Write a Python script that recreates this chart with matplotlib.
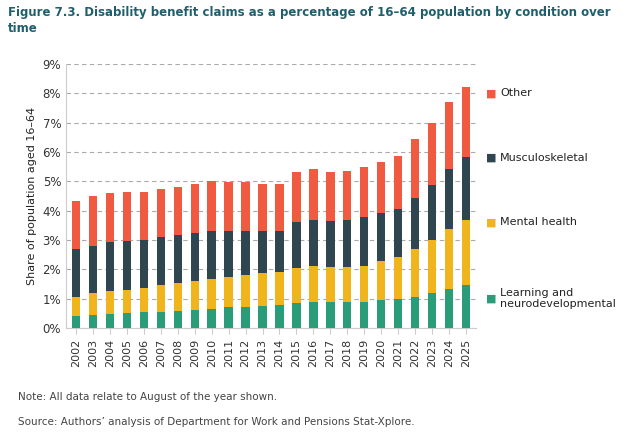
import matplotlib
matplotlib.use("Agg")
import matplotlib.pyplot as plt
import numpy as np

years = [str(y) for y in range(2002, 2026)]
cum_learning = [0.4,0.44,0.47,0.5,0.53,0.55,0.58,0.62,0.65,0.7,0.73,0.75,0.79,0.85,0.87,0.87,0.87,0.9,0.94,1.0,1.07,1.19,1.33,1.45]
cum_mental = [1.05,1.2,1.25,1.3,1.37,1.45,1.52,1.6,1.67,1.74,1.8,1.86,1.9,2.06,2.1,2.07,2.07,2.13,2.27,2.42,2.68,3.01,3.39,3.68]
cum_musc = [2.68,2.8,2.92,2.95,3.0,3.1,3.18,3.25,3.3,3.3,3.3,3.3,3.31,3.6,3.67,3.65,3.67,3.77,3.92,4.07,4.43,4.88,5.43,5.84]
cum_total = [4.33,4.5,4.6,4.62,4.65,4.75,4.82,4.92,5.0,4.98,4.97,4.92,4.92,5.32,5.42,5.32,5.35,5.48,5.65,5.88,6.43,7.0,7.72,8.2]

learning = np.array(cum_learning)
mental = np.array(cum_mental) - learning
musc = np.array(cum_musc) - np.array(cum_mental)
other = np.array(cum_total) - np.array(cum_musc)

series = [("Learning and\nneurodevelopmental", learning, "#2a9d78"),
          ("Mental health", mental, "#f0b41c"),
          ("Musculoskeletal", musc, "#2f4550"),
          ("Other", other, "#f05a40")]

fig = plt.figure(figsize=(6.34, 4.38), dpi=100)
ax = fig.add_axes([66/634, 1-328/438, 410/634, 264/438])
x = np.arange(len(years))
bottom = np.zeros(len(years))
for name, vals, col in series:
    ax.bar(x, vals, bottom=bottom, width=0.5, color=col, zorder=3)
    bottom += vals

ax.set_ylim(0, 9)
ax.set_xlim(-0.6, len(years) - 0.4)
ax.set_yticks(range(10))
ax.set_yticklabels([f"{i}%" for i in range(10)], fontsize=8.5, color="#333333")
ax.set_xticks(x)
ax.set_xticklabels(years, rotation=90, fontsize=8, color="#333333")
ax.yaxis.grid(True, linestyle=(0, (4, 3)), color="#aaaaaa", linewidth=0.8, zorder=0)
for s in ["top", "right"]:
    ax.spines[s].set_visible(False)
ax.spines["left"].set_color("#cccccc")
ax.spines["bottom"].set_color("#cccccc")
ax.tick_params(axis="y", length=0)
ax.tick_params(axis="x", length=4, color="#cccccc")
ax.set_ylabel("Share of population aged 16–64", fontsize=8, color="#222222")

leg_y = [1.0, 3.6, 5.8, 8.0]
for (name, vals, col), yy in zip(series, leg_y):
    yf = ax.transData.transform((0, yy))[1] / 438
    fig.text(486/634, yf, "■", color=col, fontsize=8, va="center", ha="left")
    fig.text(500/634, yf, name, color="#222222", fontsize=8, va="center", ha="left")

fig.text(8/634, 1-6/438, "Figure 7.3. Disability benefit claims as a percentage of 16–64 population by condition over\ntime",
         fontsize=8.5, fontweight="bold", color="#1f5f6b", va="top", ha="left", linespacing=1.25)
fig.text(18/634, 1-397/438, "Note: All data relate to August of the year shown.", fontsize=7.5, color="#444444", va="center")
fig.text(18/634, 1-422/438, "Source: Authors’ analysis of Department for Work and Pensions Stat-Xplore.", fontsize=7.5, color="#444444", va="center")

fig.savefig("out.png", dpi=100)
